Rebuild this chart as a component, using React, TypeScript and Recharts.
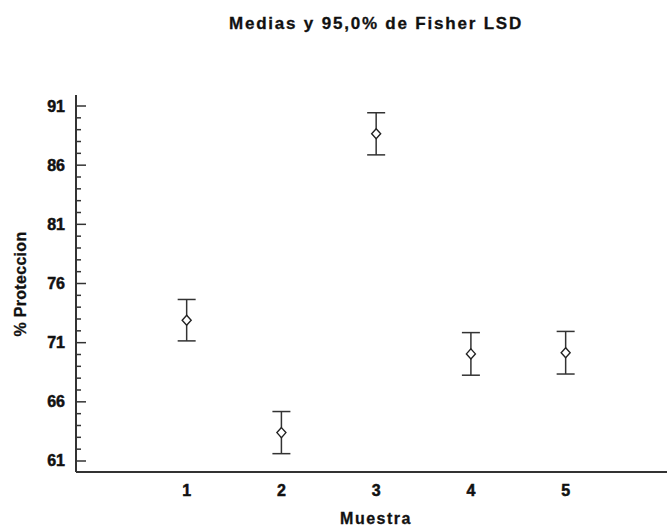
import React from 'react';
import { ComposedChart, Scatter, XAxis, YAxis, ErrorBar } from 'recharts';

// Fisher LSD means per sample
const samples = [1, 2, 3, 4, 5];
const means = [72.9, 63.4, 88.65, 70.05, 70.15];
const lsdHalf = [1.75, 1.78, 1.78, 1.8, 1.8];

const yTicks = Array.from({ length: 31 }, (_, i) => 61 + i);
const xTicks = [1, 2, 3, 4, 5];

const data = samples.map((s, i) => ({ x: s, y: means[i], err: lsdHalf[i] }));

const INK = '#333';
const FONT = '"Liberation Sans", Arial, sans-serif';

const LeftTick = ({ x, y, payload }: any) => {
    const v = Math.round(payload.value);
    const major = (v - 61) % 5 === 0;
    return (
        <g>
            <line x1={x} x2={x + (major ? 10 : 5)} y1={y} y2={y} stroke={INK} strokeWidth={1.5} />
            {major && (
                <text x={x - 11} y={y + 5.5} textAnchor="end" fontSize={16} fontWeight="bold" fill="#111" fontFamily={FONT} stroke="#111" strokeWidth={0.5}>
                    {v}
                </text>
            )}
        </g>
    );
};

const RightTick = ({ x, y, payload }: any) => {
    const major = (Math.round(payload.value) - 61) % 5 === 0;
    return <line x1={x} x2={x - (major ? 10 : 5)} y1={y} y2={y} stroke={INK} strokeWidth={1.5} />;
};

const BottomTick = ({ x, y, payload }: any) => (
    <text x={x} y={y + 24} textAnchor="middle" fontSize={16} fontWeight="bold" fill="#111" fontFamily={FONT} stroke="#111" strokeWidth={0.5}>
        {payload.value}
    </text>
);

const Diamond = ({ cx, cy }: any) => (
    <polygon
        points={`${cx},${cy - 5} ${cx + 4.5},${cy} ${cx},${cy + 5} ${cx - 4.5},${cy}`}
        fill="#fff"
        stroke="#222"
        strokeWidth={1.4}
    />
);

const labelText: React.CSSProperties = {
    position: 'absolute',
    whiteSpace: 'nowrap',
    fontWeight: 'bold',
    color: '#111',
    WebkitTextStroke: '0.3px #111',
};

export default function App() {
    return (
        <div style={{ position: 'absolute', left: 0, top: 0, width: 667, height: 526, overflow: 'hidden', background: '#fff', fontFamily: FONT }}>
            <div style={{ ...labelText, left: 376, top: 15, transform: 'translateX(-50%)', fontSize: 17, lineHeight: '17px', letterSpacing: 1.8 }}>
                Medias y 95,0% de Fisher LSD
            </div>
            <ComposedChart width={680} height={526} data={data} margin={{ top: 95, right: 7, bottom: 0, left: 16 }}>
                <XAxis
                    dataKey="x"
                    type="number"
                    domain={[-0.168, 6.133]}
                    ticks={xTicks}
                    interval={0}
                    tickLine={false}
                    tickSize={0}
                    tickMargin={0}
                    tick={<BottomTick />}
                    axisLine={{ stroke: INK, strokeWidth: 2 }}
                    height={54}
                />
                <XAxis xAxisId="top" orientation="top" type="number" domain={[0, 1]} tick={false} tickLine={false} height={0} axisLine={{ stroke: INK, strokeWidth: 2 }} />
                <YAxis
                    dataKey="y"
                    type="number"
                    domain={[60.07, 91.93]}
                    ticks={yTicks}
                    interval={0}
                    tickLine={false}
                    tickSize={0}
                    tickMargin={0}
                    tick={<LeftTick />}
                    axisLine={{ stroke: INK, strokeWidth: 2 }}
                    width={60}
                    allowDataOverflow
                />
                <YAxis
                    yAxisId="r"
                    orientation="right"
                    type="number"
                    domain={[60.07, 91.93]}
                    ticks={yTicks}
                    interval={0}
                    tickLine={false}
                    tickSize={0}
                    tickMargin={0}
                    tick={<RightTick />}
                    axisLine={{ stroke: INK, strokeWidth: 2 }}
                    width={0}
                    allowDataOverflow
                />
                <Scatter dataKey="y" shape={<Diamond />} isAnimationActive={false}>
                    <ErrorBar dataKey="err" direction="y" width={9} stroke={INK} strokeWidth={1.5} isAnimationActive={false} />
                </Scatter>
            </ComposedChart>
            <div style={{ ...labelText, left: 376, top: 511, transform: 'translateX(-50%)', fontSize: 16, lineHeight: '16px', letterSpacing: 1.5 }}>
                Muestra
            </div>
            <div style={{ ...labelText, left: 21, top: 284, transform: 'translate(-50%, -50%) rotate(-90deg)', fontSize: 16, lineHeight: '16px', letterSpacing: 0.3 }}>
                % Proteccion
            </div>
        </div>
    );
}
